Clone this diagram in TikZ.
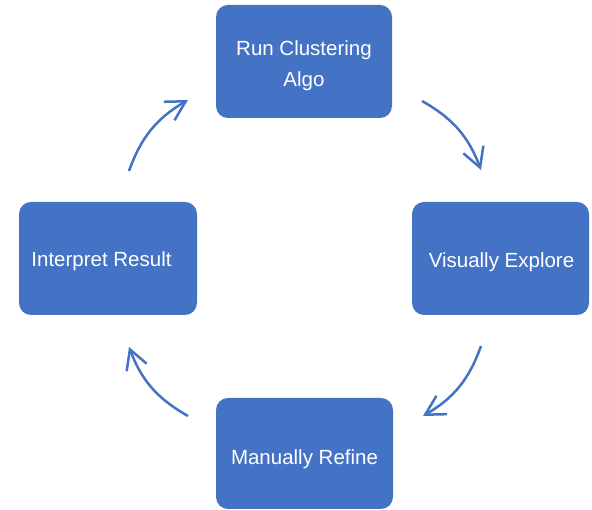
\documentclass[tikz,border=0pt]{standalone}
\usepackage{fontspec}
\setmainfont{Liberation Sans}
\usetikzlibrary{arrows.meta}
\definecolor{boxblue}{HTML}{4472C4}
\begin{document}
\begin{tikzpicture}[x=1pt,y=1pt,
  stagebox/.style={fill=boxblue, draw=none, rounded corners=12pt, inner sep=0pt},
  stagetext/.style={text=white, font=\fontsize{20.5}{31}\selectfont, anchor=base, inner sep=0pt, align=center},
  cyclearrow/.style={draw=boxblue, line width=2.5pt, bend left=20,
     -{Straight Barb[angle=58:22pt,line width=2.5pt]}}]
\useasboundingbox (0,0) rectangle (592,510);
% boxes
\node[stagebox, minimum width=176pt, minimum height=113pt] (run) at (304,448.5) {};
\node[stagebox, minimum width=177pt, minimum height=113pt] (vis) at (500.5,251.5) {};
\node[stagebox, minimum width=177pt, minimum height=111pt] (man) at (304.5,56.5) {};
\node[stagebox, minimum width=178pt, minimum height=113pt] (int) at (108,251.5) {};
% texts
\node[stagetext] (runtext) at ([yshift=-25.5pt]run.center) {Run Clustering\\Algo};
\node[stagetext] (vistext) at ([xshift=1pt,yshift=-9.5pt]vis.center) {Visually Explore};
\node[stagetext] (mantext) at ([yshift=-11.5pt]man.center) {Manually Refine};
\node[stagetext] (inttext) at ([xshift=-6.5pt,yshift=-8.5pt]int.center) {Interpret Result};
% arrow end points
\coordinate (a1s) at (422,409);
\coordinate (a1e) at (481,340);
\coordinate (a2s) at (481,164);
\coordinate (a2e) at (423,94);
\coordinate (a3s) at (188,94);
\coordinate (a3e) at (129,163);
\coordinate (a4s) at (129,339);
\coordinate (a4e) at (188,410);
\draw[cyclearrow] (a1s) to (a1e);
\draw[cyclearrow] (a2s) to (a2e);
\draw[cyclearrow] (a3s) to (a3e);
\draw[cyclearrow] (a4s) to (a4e);
\end{tikzpicture}
\end{document}
